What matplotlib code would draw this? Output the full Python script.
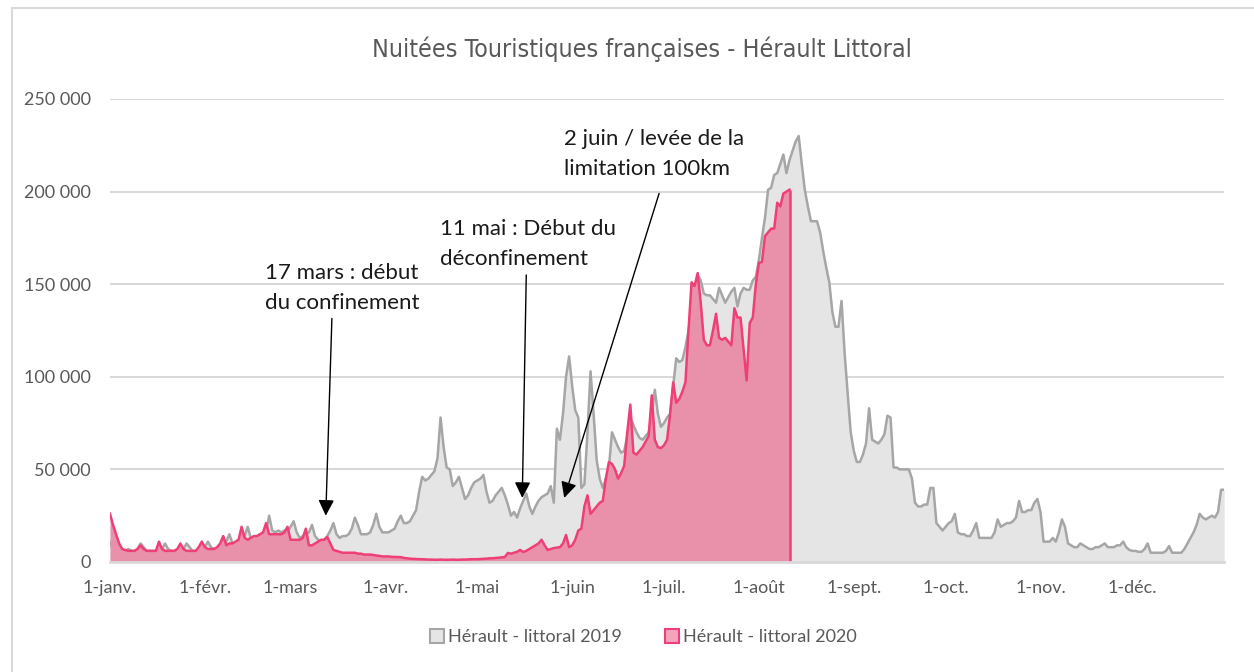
import numpy as np
import matplotlib
matplotlib.use("Agg")
import matplotlib.pyplot as plt
from matplotlib import font_manager
from matplotlib.patches import Patch, Rectangle

# nuitées journalières, en milliers (index = jour de l'année)
littoral_2019 = [
    # janv.
    9, 13, 10, 7, 6, 6, 7, 6, 6, 7, 10, 8, 6, 6, 6, 6, 7, 7, 10, 7, 6,
    6, 6, 6, 7, 10, 8, 6, 6, 7, 7,
    # févr.
    8, 11, 8, 7, 7, 8, 9, 11, 15, 10, 9, 10, 12, 14,
    19, 13, 12, 13, 14, 14, 16, 25, 17, 16, 17, 16, 17, 16,
    # mars
    19, 22, 16, 13, 14, 15, 16, 20, 14, 12, 11, 12, 14, 17,
    21, 15, 13, 14, 14, 15, 18, 24, 20, 15, 15, 15, 16, 20, 26, 19, 16,
    # avr.
    16, 16, 17, 18, 22, 25, 21, 21, 22, 25, 28, 38, 46, 44,
    45, 47, 49, 56, 78, 62, 51, 50, 41, 43, 46, 40, 34, 36, 40, 43,
    # mai
    44, 45, 47, 38, 32, 33, 36, 38, 40, 36, 31, 25, 27, 24,
    29, 33, 37, 30, 26, 30, 33, 35, 36, 37, 41, 32, 72, 66, 80, 100, 111,
    # juin
    95, 82, 78, 40, 42, 70, 103, 80, 55, 45, 40, 45, 51, 70,
    66, 62, 59, 60, 68, 78, 74, 70, 67, 66, 68, 70, 80, 93, 80, 73,
    # juil.
    75, 78, 80, 95, 110, 108, 109, 116, 125, 135, 145, 155, 152, 145,
    144, 144, 142, 140, 148, 144, 140, 143, 146, 148, 138, 145, 148, 147,
    147, 152, 154,
    # août
    163, 175, 186, 201, 202, 209, 210, 215, 220, 210, 217, 222, 227, 230,
    215, 201, 192, 184, 184, 184, 178, 168, 159, 151, 135, 127, 127, 141,
    113, 91, 70,
    # sept.
    60, 54, 54, 58, 64, 83, 66, 65, 64, 66, 69, 79, 78, 51,
    51, 50, 50, 50, 50, 45, 32, 30, 30, 31, 31, 40, 40, 21, 19, 17,
    # oct.
    19, 21, 22, 26, 16, 15, 15, 14, 14, 17, 21, 13, 13, 13,
    13, 13, 16, 23, 19, 20, 21, 21, 22, 24, 33, 27, 27, 28, 28, 32, 34,
    # nov.
    27, 11, 11, 11, 13, 11, 16, 23, 19, 10, 9, 8, 8, 10,
    9, 8, 7, 7, 8, 8, 9, 10, 8, 8, 8, 9, 9, 11, 8, 6.5,
    # déc.
    6, 6, 5.5, 5.5, 7, 10, 5, 5, 5, 5, 5, 6, 8.6, 5,
    5, 5, 5, 7, 10, 13, 16, 20, 26, 24, 23, 24, 25, 24, 27, 39, 39,
]

littoral_2020 = [
    # janv.
    26, 20, 15, 10, 7, 6.5, 6, 6, 6, 7, 9, 7, 6, 6, 6, 6, 11, 7, 6, 6, 6,
    6, 7, 10, 7, 6, 6, 6, 6, 8, 11,
    # févr.
    8, 7, 7, 7, 8, 10, 14, 9, 10, 10, 11, 12, 19, 13,
    12, 13, 14, 14, 15, 16, 21, 15, 15, 15, 15, 15, 16, 19,
    # mars
    12, 12, 12, 12, 13, 18, 9, 9, 10, 11, 12, 12, 13.5, 10,
    6.5, 6, 5.5, 5, 5, 5, 5, 5, 4.5, 4.5, 4, 4, 4, 3.8, 3.5, 3.3, 3,
    # avr.
    3, 3, 2.8, 2.7, 2.7, 2.6, 2.2, 2, 1.8, 1.7, 1.6, 1.5, 1.5, 1.4, 1.3,
    1.3, 1.2, 1.2, 1.3, 1.2, 1.2, 1.2, 1.3, 1.2, 1.2, 1.3, 1.3, 1.4, 1.5, 1.5,
    # mai
    1.5, 1.6, 1.7, 1.8, 2, 2, 2.2, 2.3, 2.5, 2.7, 4.9, 4.5, 5, 5.5,
    6.5, 5.4, 6, 7, 8, 9, 10, 12, 9, 6.5, 7, 7.5, 7.8, 8, 10, 14.6, 8,
    # juin
    9, 12, 17, 18, 30, 36, 26, 28, 30, 32, 33, 45, 54, 53,
    50, 45, 48, 52, 70, 85, 59, 58, 60, 62, 65, 68, 90, 66, 62, 61.5,
    # juil.
    63, 66, 80, 97, 86, 88, 92, 97, 125, 151, 149, 156, 140, 120,
    117, 117, 125, 134, 121, 120, 121, 119, 117, 137, 132, 132, 115, 98,
    129, 132, 150,
    # août (jusqu'au 11)
    161.5, 162, 176, 178, 180, 180, 194, 192, 199, 200, 201,
]

month_labels = ["1-janv.", "1-févr.", "1-mars", "1-avr.", "1-mai", "1-juin",
                "1-juil.", "1-août", "1-sept.", "1-oct.", "1-nov.", "1-déc."]
month_days = [31, 28, 31, 30, 31, 30, 31, 31, 30, 31, 30, 31]

y19 = np.array(littoral_2019) * 1000
y20 = np.array(littoral_2020) * 1000
x19 = np.arange(len(y19))
x20 = np.arange(len(y20))
month_starts = np.cumsum([0] + month_days[:-1])

txt = "#595959"
plt.rcParams["font.family"] = ["Lato", "DejaVu Sans"]


def narrow_font():
    # police étroite (façon Arial Narrow) si une est installée
    cands = []
    for f in font_manager.fontManager.ttflist:
        fn = f.fname.lower()
        if ("narrow" in fn or "condensed" in fn or f.stretch in ("condensed", "semi-condensed")) \
                and "bold" not in fn and "italic" not in fn and "oblique" not in fn:
            score = 0
            if "liberation" in fn:
                score -= 3
            if "sans" in fn:
                score -= 1
            if "light" in fn or "thin" in fn or "black" in fn or "medium" in fn or "semi" in fn or "extra" in fn:
                score += 2
            cands.append((score, f.fname))
    if cands:
        return font_manager.FontProperties(fname=sorted(cands)[0][1], size=18)
    return font_manager.FontProperties(family=["Lato", "DejaVu Sans"], size=17)


fig = plt.figure(figsize=(12.54, 6.72), dpi=100)
ax = fig.add_axes([0.0877, 0.1637, 0.8885, 0.689])

grey_fill, grey_line = "#e5e5e5", "#a6a6a6"
pink_fill, pink_line = "#e991ab", "#ee3f76"

ax.fill_between(x19, y19, color=grey_fill, lw=0, zorder=2)
ax.plot(x19, y19, color=grey_line, lw=1.8, zorder=3)
ax.fill_between(x20, y20, color=pink_fill, lw=0, zorder=4)
ax.plot(x20, y20, color=pink_line, lw=1.8, zorder=5)
ax.vlines(x20[-1], 0, y20[-1], color=pink_line, lw=1.8, zorder=5)

ax.set_xlim(0, len(y19) - 1)
ax.set_ylim(0, 250000)
ax.set_yticks(np.arange(0, 250001, 50000))
ax.set_yticklabels(["0" if v == 0 else f"{v:,}".replace(",", " ")
                    for v in range(0, 250001, 50000)])
ax.set_xticks(month_starts)
ax.set_xticklabels(month_labels)
ax.tick_params(length=0, labelsize=13, labelcolor=txt)
ax.tick_params(axis="y", pad=14)
ax.tick_params(axis="x", pad=13)
ax.grid(axis="y", color="#d9d9d9", lw=1.5, zorder=0)
for s in ["top", "right", "left"]:
    ax.spines[s].set_visible(False)
ax.spines["bottom"].set_color("#d9d9d9")
ax.spines["bottom"].set_linewidth(2)
ax.spines["bottom"].set_zorder(6)

# annotations
notes = [
    ("17 mars : début\ndu confinement", (50.6, 148000), (72.5, 131500), (70.5, 25000)),
    ("11 mai : Début du\ndéconfinement", (107.7, 171500), (136, 155000), (134.7, 34600)),
    ("2 juin / levée de la\nlimitation 100km", (148.4, 220500), (179.4, 199000), (148.4, 34600)),
]
for label, tpos, start, tip in notes:
    ax.text(tpos[0], tpos[1], label, ha="left", va="center", fontsize=16,
            color="#1a1a1a", linespacing=1.62, zorder=8)
    ax.annotate("", xy=tip, xytext=start,
                arrowprops=dict(arrowstyle="-|>", color="black", lw=1,
                                mutation_scale=24, shrinkA=0, shrinkB=0),
                zorder=8)

fig.text(0.512, 0.926, "Nuitées Touristiques françaises - Hérault Littoral",
         ha="center", va="center", color=txt, fontproperties=narrow_font())

handles = [Patch(facecolor=grey_fill, edgecolor=grey_line, lw=1.5,
                 label="Hérault - littoral 2019"),
           Patch(facecolor="#f4a3bb", edgecolor=pink_line, lw=1.5,
                 label="Hérault - littoral 2020")]
fig.legend(handles=handles, loc="center", bbox_to_anchor=(0.513, 0.052),
           ncol=2, frameon=False, fontsize=13, labelcolor=txt,
           handlelength=0.8, handleheight=0.8, handletextpad=0.2,
           columnspacing=2.4)

fig.patches.append(Rectangle((0.0096, -0.01), 1.0, 0.998, transform=fig.transFigure,
                             fill=False, edgecolor="#d9d9d9", lw=1.5))

fig.savefig("out.png", dpi=100)
